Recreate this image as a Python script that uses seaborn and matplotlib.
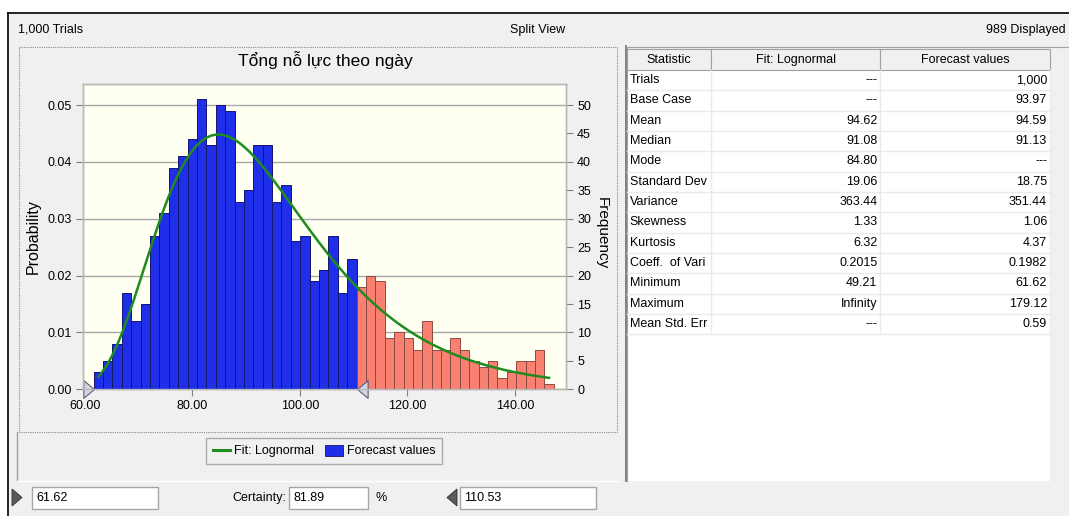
import numpy as np
import pandas as pd
import matplotlib
matplotlib.use("Agg")
import matplotlib.pyplot as plt
from matplotlib.patches import Rectangle, Polygon, Patch
from matplotlib.lines import Line2D
import seaborn as sns

# ---------------------------------------------------------------- data
title = "Tổng nỗ lực theo ngày"
trials = 1000
displayed = 989
lower_bound = 61.62
upper_bound = 110.53
certainty = 81.89
bins_inside = 28

# trial counts per bin, inside and outside the certainty range
freq_inside = [3, 5, 8, 17, 12, 15, 27, 31, 39, 41, 44, 51, 43, 50, 49,
               33, 35, 43, 43, 33, 36, 26, 27, 19, 21, 27, 17, 23]
freq_outside = [18, 20, 19, 9, 10, 9, 7, 12, 7, 7, 9, 7, 5, 4, 5, 2, 3,
                5, 5, 7, 1]

# fitted lognormal (mean, standard deviation, location)
fit_mean = 94.62
fit_sd = 19.06
fit_min = 49.21

x_ticks = [60, 80, 100, 120, 140]
prob_ticks = [0.00, 0.01, 0.02, 0.03, 0.04, 0.05]
freq_ticks = [0, 5, 10, 15, 20, 25, 30, 35, 40, 45, 50]

stat_names = ["Trials", "Base Case", "Mean", "Median", "Mode", "Standard Dev",
              "Variance", "Skewness", "Kurtosis", "Coeff.  of Vari",
              "Minimum", "Maximum", "Mean Std. Err"]
fit_column = ["---", "---", "94.62", "91.08", "84.80", "19.06", "363.44",
              "1.33", "6.32", "0.2015", "49.21", "Infinity", "---"]
forecast_column = ["1,000", "93.97", "94.59", "91.13", "---", "18.75",
                   "351.44", "1.06", "4.37", "0.1982", "61.62", "179.12",
                   "0.59"]
table_header = ["Statistic", "Fit: Lognormal", "Forecast values"]

# ---------------------------------------------------------------- style
plt.rcParams["font.family"] = ["Liberation Sans", "DejaVu Sans"]
BLUE = "#1F2EE8"
SALMON = "#FA8072"
GREEN = "#1E8C1E"
PANEL = "#F0F0F0"
IVORY = "#FFFFF2"

W, H = 1069, 516
fig = plt.figure(figsize=(W / 100, H / 100), dpi=100, facecolor="white")

# background canvas in pixel units
bg = fig.add_axes([0, 0, 1, 1], zorder=0)
bg.set_xlim(0, W)
bg.set_ylim(H, 0)
bg.axis("off")

bg.add_patch(Rectangle((8, 13), W, H, facecolor=PANEL, edgecolor="none"))
bg.plot([8, W], [13, 13], color="black", lw=1.2)
bg.plot([8, 8], [13, H], color="black", lw=1.2)

bg.text(18, 30, f"{trials:,} Trials", fontsize=9, va="center", ha="left")
bg.text(538, 30, "Split View", fontsize=9, va="center", ha="center")
bg.text(1066, 30, f"{displayed} Displayed", fontsize=9, va="center",
        ha="right")

# chart panel frames
bg.add_patch(Rectangle((19, 47), 598, 385, facecolor="none",
                       edgecolor="#8A8A8A", lw=0.8, linestyle=(0, (1, 1))))
bg.plot([17, 17], [432, 481], color="#A0A0A0", lw=1)
bg.plot([17, 620], [481, 481], color="white", lw=1)

bg.text(325, 60, title, fontsize=12.5, ha="center", va="center")

# ---------------------------------------------------------------- chart
left, right, top, bottom = 82.7, 566.0, 84.0, 389.3
ax = fig.add_axes([left / W, 1 - bottom / H, (right - left) / W,
                   (bottom - top) / H], zorder=2)
ax.set_facecolor(IVORY)

width = (upper_bound - lower_bound) / bins_inside
edges_in = lower_bound + width * np.arange(bins_inside + 1)
edges_out = upper_bound + width * np.arange(len(freq_outside) + 1)
df_in = pd.DataFrame({"value": (edges_in[:-1] + edges_in[1:]) / 2,
                      "prob": np.array(freq_inside) / trials})
df_out = pd.DataFrame({"value": (edges_out[:-1] + edges_out[1:]) / 2,
                       "prob": np.array(freq_outside) / trials})

sns.histplot(data=df_in, x="value", weights="prob", bins=list(edges_in),
             stat="count", color=BLUE, alpha=1, edgecolor="#141470",
             linewidth=0.7, ax=ax, zorder=3)
sns.histplot(data=df_out, x="value", weights="prob", bins=list(edges_out),
             stat="count", color=SALMON, alpha=1, edgecolor="#8C4A40",
             linewidth=0.7, ax=ax, zorder=3)

# lognormal fit, scaled to probability per bin
shift_mean = fit_mean - fit_min
s2 = np.log(1 + (fit_sd / shift_mean) ** 2)
mu = np.log(shift_mean) - s2 / 2
xs = np.linspace(df_in["value"].iloc[0], df_out["value"].iloc[-1], 400)
z = xs - fit_min
pdf = np.exp(-(np.log(z) - mu) ** 2 / (2 * s2)) / (z * np.sqrt(2 * np.pi * s2))
sns.lineplot(x=xs, y=pdf * width, color=GREEN, linewidth=1.8, ax=ax,
             zorder=4)

x_lo = 60 - 2.3 / 5.375
x_hi = 140 + 51 / 5.375
ax.set_xlim(x_lo, x_hi)
y_hi = 0.0537
ax.set_ylim(0, y_hi)
ax.set_xticks(x_ticks)
ax.set_xticklabels([f"{v:.2f}" for v in x_ticks])
ax.set_yticks(prob_ticks)
ax.set_yticklabels([f"{v:.2f}" for v in prob_ticks])
ax.set_axisbelow(True)
ax.yaxis.grid(True, color="#A8A8A8", lw=1)
ax.xaxis.grid(False)
ax.tick_params(axis="both", direction="out", length=5, width=0.8,
               color="#808080", labelsize=9, pad=3)
ax.set_xlabel("")
ax.set_ylabel("Probability", fontsize=11.5, va="center")
ax.yaxis.set_label_coords((33 - left) / (right - left), 0.5)
for sp in ax.spines.values():
    sp.set_color("#B8B8B8")
    sp.set_linewidth(1)

ax2 = ax.twinx()
ax2.set_ylim(0, y_hi * trials)
ax2.set_yticks(freq_ticks)
ax2.set_yticklabels([str(v) for v in freq_ticks])
ax2.tick_params(axis="y", direction="out", length=5, width=0.8,
                color="#808080", labelsize=9, pad=3)
ax2.set_ylabel("Frequency", fontsize=11, rotation=270, va="center")
ax2.yaxis.set_label_coords((602 - left) / (right - left), 0.51)
for sp in ax2.spines.values():
    sp.set_color("#B8B8B8")
    sp.set_linewidth(1)

# certainty grabbers
tri_right = [(0, 0), (-10.6, 8.8), (-10.6, -8.8), (0, 0)]
tri_left = [(0, 0), (10.6, 8.8), (10.6, -8.8), (0, 0)]
ax.plot([lower_bound], [0], marker=tri_right, ms=15.3, mfc="#D4D4E2",
        mec="#5E5E70", mew=0.8, clip_on=False, zorder=6, ls="none")
ax.plot([upper_bound], [0], marker=tri_left, ms=15.3, mfc="#D4D4E2",
        mec="#5E5E70", mew=0.8, clip_on=False, zorder=6, ls="none")

# legend
handles = [Line2D([], [], color=GREEN, lw=2.2),
           Patch(facecolor=BLUE, edgecolor="#141470", lw=0.6)]
leg = bg.legend(handles, ["Fit: Lognormal", "Forecast values"], loc="center",
                bbox_to_anchor=(324, 451), bbox_transform=bg.transData,
                ncol=2, frameon=True, fancybox=False, fontsize=9,
                handlelength=1.4, handleheight=1.0, columnspacing=0.9,
                handletextpad=0.3, borderpad=0.55)
leg.get_frame().set_edgecolor("#9A9A9A")
leg.get_frame().set_facecolor(PANEL)
leg.get_frame().set_linewidth(1)

# ---------------------------------------------------------------- bottom bar
def text_box(x0, x1, label):
    bg.add_patch(Rectangle((x0, 487), x1 - x0, 22, facecolor="white",
                           edgecolor="#A6A6A6", lw=1))
    bg.text(x0 + 4, 498, label, fontsize=9, va="center", ha="left")

bg.add_patch(Polygon([(12, 489), (22, 497.5), (12, 506)], closed=True,
                     facecolor="#5A5A5A", edgecolor="#303030", lw=0.6))
text_box(32, 158, f"{lower_bound:.2f}")
bg.text(286, 498, "Certainty:", fontsize=9, va="center", ha="right")
text_box(289, 368, f"{certainty:.2f}")
bg.text(381, 498, "%", fontsize=9, va="center", ha="center")
bg.add_patch(Polygon([(457, 489), (447, 497.5), (457, 506)], closed=True,
                     facecolor="#5A5A5A", edgecolor="#303030", lw=0.6))
text_box(460, 596, f"{upper_bound:.2f}")

# ---------------------------------------------------------------- statistics
col_x = [627.3, 711.0, 880.3, 1050.0]
head_top, head_bot = 49.3, 70.0
row_h = 20.33

bg.add_patch(Rectangle((627, head_bot), col_x[-1] - 627, 481 - head_bot,
                       facecolor="white", edgecolor="none"))
bg.plot([625.5, 625.5], [46, 481], color="#6E6E6E", lw=1.2)
bg.plot([627, 627], [48, 481], color="#A0A0A0", lw=0.8)
bg.plot([625.5, W], [47, 47], color="#A0A0A0", lw=0.8)

for j in range(3):
    bg.add_patch(Rectangle((col_x[j], head_top), col_x[j + 1] - col_x[j],
                           head_bot - head_top, facecolor=PANEL,
                           edgecolor="#A0A0A0", lw=0.8))
    bg.text((col_x[j] + col_x[j + 1]) / 2, (head_top + head_bot) / 2,
            table_header[j], fontsize=9, ha="center", va="center")

for i, (name, fv, cv) in enumerate(zip(stat_names, fit_column,
                                       forecast_column)):
    y0 = head_bot + i * row_h
    yc = y0 + row_h / 2
    bg.plot([col_x[0], col_x[-1]], [y0 + row_h, y0 + row_h],
            color="#EAEAEA", lw=1)
    bg.text(col_x[0] + 2.5, yc, name, fontsize=9, ha="left", va="center")
    bg.text(col_x[2] - 3, yc, fv, fontsize=9, ha="right", va="center")
    bg.text(col_x[3] - 3, yc, cv, fontsize=9, ha="right", va="center")

rows_end = head_bot + len(stat_names) * row_h
for xc in col_x[1:]:
    bg.plot([xc, xc], [head_bot, rows_end], color="#EAEAEA", lw=1)

fig.savefig("out.png", dpi=100, facecolor=fig.get_facecolor())
